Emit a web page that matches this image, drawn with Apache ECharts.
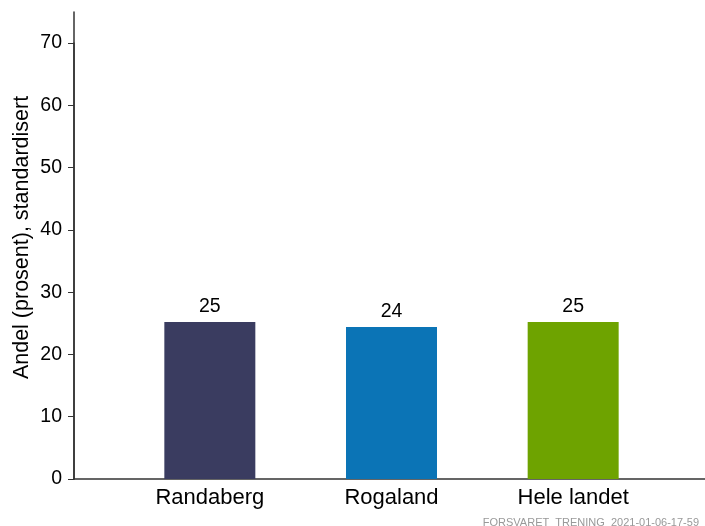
<!DOCTYPE html>
<html>
<head>
<meta charset="utf-8">
<script src="https://cdn.jsdelivr.net/npm/echarts@6/dist/echarts.min.js"></script>
<style>
  html, body { margin: 0; padding: 0; background: #fff; }
  #chart { width: 705px; height: 526px; }
</style>
</head>
<body>
<div id="chart"></div>
<script>
// ============ 数据 ============
const categories = ['Randaberg', 'Rogaland', 'Hele landet']
const values = [25.2, 24.4, 25.2]
const barColors = ['#3a3c60', '#0b74b6', '#6ea300']

const FONT = '"Liberation Sans", Arial, sans-serif'
const AXIS_COLOR = '#333'

const chart = echarts.init(document.getElementById('chart'))

const option = {
  animation: false,
  textStyle: { fontFamily: FONT },
  grid: [
    // 刻度区域 (0-70)
    { left: 74, right: 0, top: 43, bottom: 47, outerBoundsMode: 'none' },
    // 柱子区域
    { left: 119, right: 41, top: 12, bottom: 47, outerBoundsMode: 'none' },
    // 完整轴线 (0-75)
    { left: 74, right: 0, top: 12, bottom: 47, outerBoundsMode: 'none' }
  ],
  xAxis: [
    {
      type: 'category',
      gridIndex: 0,
      data: [''],
      axisLine: { lineStyle: { color: AXIS_COLOR, width: 1.5 } },
      axisTick: { show: false },
      axisLabel: { show: false }
    },
    {
      type: 'category',
      gridIndex: 1,
      data: categories,
      axisLine: { show: false },
      axisTick: { show: false },
      axisLabel: { color: '#000', fontSize: 22, margin: 8, fontFamily: FONT }
    },
    {
      type: 'category',
      gridIndex: 2,
      data: [''],
      show: false
    }
  ],
  yAxis: [
    {
      type: 'value',
      gridIndex: 0,
      min: 0,
      max: 70,
      interval: 10,
      axisLine: { show: true, lineStyle: { color: AXIS_COLOR, width: 1.5 } },
      axisTick: { show: true, length: 6, lineStyle: { color: AXIS_COLOR } },
      axisLabel: { color: '#000', fontSize: 19.5, margin: 12, fontFamily: FONT },
      splitLine: { show: false }
    },
    {
      type: 'value',
      gridIndex: 1,
      min: 0,
      max: 75,
      show: false
    },
    {
      type: 'value',
      gridIndex: 2,
      min: 0,
      max: 75,
      name: 'Andel (prosent), standardisert',
      nameLocation: 'middle',
      nameGap: 41,
      nameTextStyle: { color: '#000', fontSize: 21.5, fontFamily: FONT, padding: [0, 0, 0, 16] },
      axisLine: { show: true, lineStyle: { color: AXIS_COLOR, width: 1.5 } },
      axisTick: { show: false },
      axisLabel: { show: false },
      splitLine: { show: false }
    }
  ],
  series: [
    {
      type: 'bar',
      xAxisIndex: 1,
      yAxisIndex: 1,
      barWidth: 91,
      data: values.map((v, i) => ({ value: v, itemStyle: { color: barColors[i] } })),
      label: {
        show: true,
        position: 'top',
        distance: 5,
        color: '#000',
        fontSize: 19.5,
        fontFamily: FONT,
        formatter: p => Math.round(p.value)
      }
    }
  ],
  graphic: [
    {
      type: 'text',
      right: 6,
      top: 517,
      style: {
        text: 'FORSVARET_TRENING_2021-01-06-17-59',
        fill: '#999',
        font: '11px ' + FONT
      }
    }
  ]
}

chart.setOption(option)
</script>
</body>
</html>
